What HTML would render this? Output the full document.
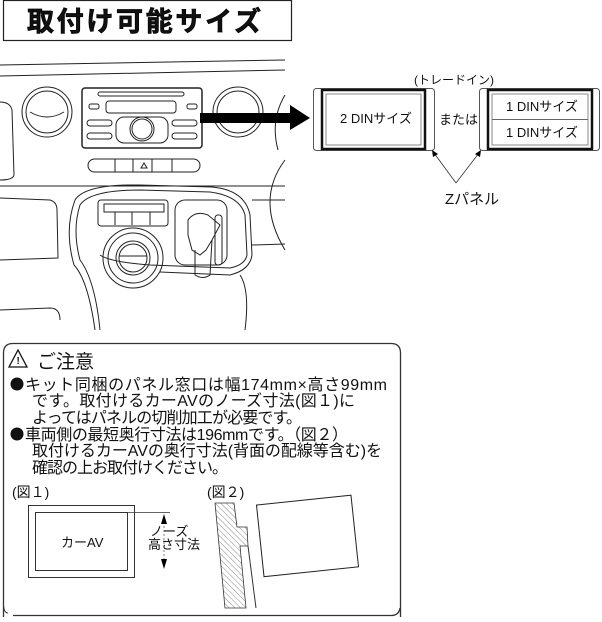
<!DOCTYPE html>
<html><head><meta charset="utf-8"><style>
body{margin:0;background:#fff;width:602px;height:617px;overflow:hidden}
svg text{font-family:"Liberation Sans","Noto Sans CJK JP",sans-serif;fill:#111}
</style></head><body>
<svg width="602" height="617" viewBox="0 0 602 617" xmlns="http://www.w3.org/2000/svg">
<!-- title -->
<rect x="3.5" y="0.5" width="288" height="40" fill="#fff" stroke="#222" stroke-width="1.2"/>
<text x="27" y="31" font-size="27" font-weight="bold" stroke="#000" stroke-width="0.7" style="font-family:'Noto Sans CJK JP',sans-serif" textLength="234">取付け可能サイズ</text>

<!-- dashboard -->
<g fill="none" stroke="#222" stroke-width="1">
<path d="M0 65 L285 60"/><path d="M0 76 L285 70"/>
<path d="M0 186 L285 186"/>
<path d="M0 102 Q10 102 12 110 L14 175 Q13 180 0 180"/>
<circle cx="47" cy="112" r="25"/><circle cx="47" cy="112" r="21"/>
<path d="M30 112 Q47 122 64 112"/>
<circle cx="238" cy="112" r="25"/><circle cx="238" cy="112" r="21"/>
<path d="M285 95 Q270 120 278 150"/>
<rect x="82" y="88" width="120" height="60" rx="3" stroke-width="1.5"/>
<rect x="98" y="92" width="86" height="4" rx="2"/>
<rect x="106" y="101" width="70" height="12" rx="3"/>
<rect x="89" y="104" width="10" height="5" rx="2"/><rect x="187" y="104" width="10" height="5" rx="2"/>
<rect x="87" y="120" width="25" height="6" rx="3"/><rect x="87" y="133" width="25" height="6" rx="3"/>
<rect x="172" y="120" width="25" height="6" rx="3"/><rect x="172" y="133" width="25" height="6" rx="3"/>
<rect x="116" y="117" width="52" height="26" rx="8"/>
<circle cx="142" cy="129" r="12"/><circle cx="142" cy="129" r="10"/>
<rect x="88" y="159" width="112" height="13" rx="6.5"/>
<path d="M115 159v13M133 159v13M152 159v13M172 159v13"/>
<path d="M141 168l3-5 3 5z"/>
<path d="M285 160 Q255 200 285 250"/>
<path d="M0 198 L50 200 Q57 202 57 210 L58 258 L0 260"/>
<path d="M100 330 Q95 280 80 260 Q72 230 80 205 Q90 190 140 190 L210 192 Q240 196 245 215 L247 255 Q245 265 230 268 L150 265 Q110 262 100 255"/>
<path d="M95 330 Q88 280 74 265 Q64 230 75 200 Q85 184 140 185 L212 187 Q245 190 250 215 L252 255 Q250 270 230 275 L160 272"/>
<path d="M240 275 Q250 290 245 330"/>
<path d="M0 310 L50 308 Q60 308 60 320"/>
<path d="M252 245 L285 244"/><path d="M252 200 L285 200"/>
<rect x="98" y="200" width="70" height="26" rx="3"/>
<rect x="104" y="204" width="60" height="8"/>
<path d="M115 212v13M132 212v13M150 212v13"/>
<circle cx="133" cy="258" r="30"/><circle cx="133" cy="258" r="25"/><circle cx="133" cy="258" r="17"/><circle cx="133" cy="258" r="14"/>
<path d="M119 256 L147 256"/>
<rect x="175" y="200" width="52" height="65" rx="10"/>
<path d="M188 220 Q195 210 208 215 L220 225 L212 240 L206 250 L200 255 L192 250 L188 235 Z"/>
<path d="M195 250 L195 275 Q203 280 210 275 L212 240"/>
<rect x="215" y="215" width="7" height="50" rx="3"/>
</g>
<!-- big arrow -->
<rect x="200" y="113" width="90" height="10" fill="#000"/>
<path d="M290 105 L310 118 L290 130 Z" fill="#000"/>

<!-- DIN boxes -->
<g>
<rect x="313.5" y="88.5" width="121" height="62" rx="3" fill="#fff" stroke="#555" stroke-width="1"/>
<rect x="322" y="90" width="103" height="59" fill="none" stroke="#111" stroke-width="2.5"/>
<rect x="326" y="94" width="95" height="51" fill="#fff" stroke="#888" stroke-width="1"/>
<text x="340" y="123" font-size="13">2 DINサイズ</text>
<text x="439" y="124" font-size="13">または</text>
<rect x="479.5" y="88.5" width="120" height="62" rx="3" fill="#fff" stroke="#555" stroke-width="1"/>
<rect x="488" y="90" width="104" height="59" fill="none" stroke="#111" stroke-width="2.5"/>
<rect x="492" y="94" width="96" height="51" fill="#fff" stroke="#888" stroke-width="1"/>
<line x1="492" y1="119.5" x2="588" y2="119.5" stroke="#666"/>
<text x="506" y="111" font-size="13">1 DINサイズ</text>
<text x="506" y="137" font-size="13">1 DINサイズ</text>
<text x="414" y="84" font-size="12">(トレードイン)</text>
<path d="M456 183 L434 153 M456 183 L479 153" stroke="#333" stroke-width="0.8" fill="none"/>
<path d="M432 150 L438 154 L433 157 Z M481 150 L475 154 L480 157 Z" fill="#000"/>
<text x="445" y="204" font-size="15">Zパネル</text>
</g>

<!-- notes -->
<path d="M3.5 617 L3.5 353 Q3.5 343.5 13 343.5 L391 343.5 Q400.5 343.5 400.5 353 L400.5 617" fill="none" stroke="#333" stroke-width="1.3"/>
<path d="M13 615.5 L391 615.5 Q399 615.5 400 608" fill="none" stroke="#333" stroke-width="1.3"/>
<path d="M8 613 Q4 613 3.5 605" fill="none" stroke="#333"/>
<path d="M9 367 L18 350 L27 367 Z" fill="none" stroke="#111" stroke-width="1.3"/>
<text x="16.5" y="364" font-size="10" font-weight="bold">!</text>
<circle cx="17" cy="384" r="6.5" fill="#111"/>
<circle cx="17" cy="434" r="6.5" fill="#111"/>
<g font-size="16" style="font-family:'Noto Sans CJK JP',sans-serif">
<text x="37" y="368" font-size="19">ご注意</text>
<text x="25" y="390" textLength="362">キット同梱のパネル窓口は幅174mm×高さ99mm</text>
<text x="32" y="406" textLength="323">です。取付けるカーAVのノーズ寸法(図１)に</text>
<text x="32" y="423" textLength="270">よってはパネルの切削加工が必要です。</text>
<text x="25" y="440" textLength="323">車両側の最短奥行寸法は196mmです。（図２）</text>
<text x="32" y="456" textLength="350">取付けるカーAVの奥行寸法(背面の配線等含む)を</text>
<text x="32" y="473" textLength="196">確認の上お取付けください。</text>
</g>
<text x="12" y="497" font-size="14">(図１)</text>
<text x="207" y="497" font-size="14">(図２)</text>
<!-- fig1 -->
<rect x="28.5" y="505.5" width="106" height="72" fill="none" stroke="#333"/>
<rect x="35.5" y="512.5" width="92" height="58" fill="none" stroke="#333"/>
<line x1="127" y1="512.5" x2="170" y2="512.5" stroke="#333" stroke-width="0.7"/>
<text x="61" y="547" font-size="13">カーAV</text>
<line x1="164" y1="518" x2="164" y2="565" stroke="#333" stroke-width="0.6" stroke-dasharray="2,2"/>
<path d="M161 524 L164 514 L167 524 Z M161 559 L164 569 L167 559 Z" fill="#000"/>
<text x="150" y="536" font-size="13">ノーズ</text>
<text x="148" y="549" font-size="13">高さ寸法</text>
<!-- fig2 -->
<defs><pattern id="h" width="4" height="4" patternUnits="userSpaceOnUse" patternTransform="rotate(-45)"><line x1="0" y1="0" x2="0" y2="4" stroke="#555" stroke-width="0.7"/></pattern></defs>
<path d="M215 503 L234 503 L237 527 L247 527 L248 546 L240 546 L246 608 L225 608 Z" fill="url(#h)" stroke="#333" stroke-width="0.8"/>
<path d="M248 546 L256 608" stroke="#333" fill="none"/>
<rect x="260" y="500" width="95" height="72" fill="#fff" stroke="#222" transform="rotate(-6 307 536)"/>
</svg>
</body></html>
